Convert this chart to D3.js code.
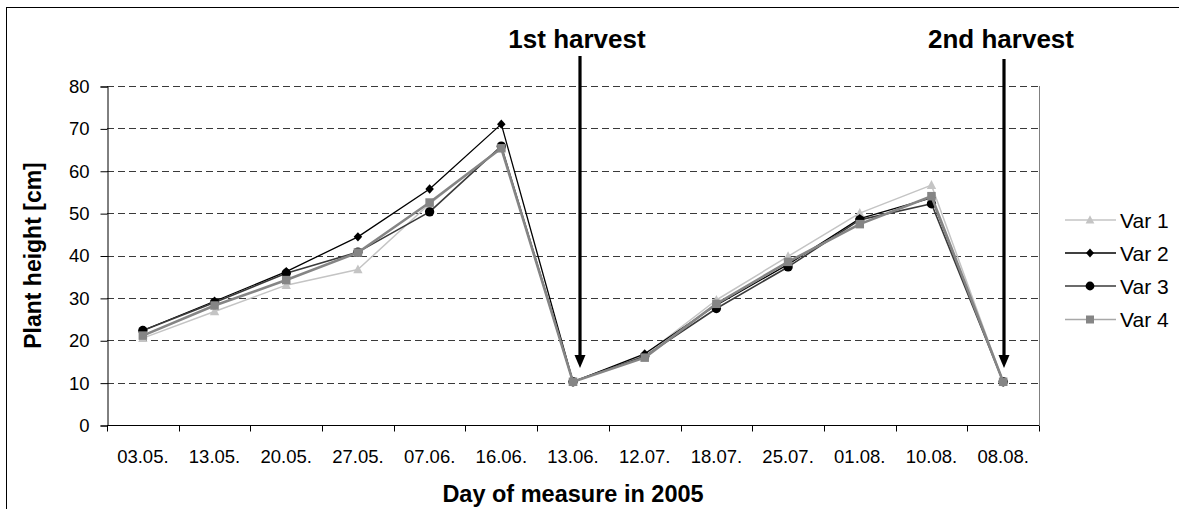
<!DOCTYPE html>
<html>
<head>
<meta charset="utf-8">
<script src="https://cdn.jsdelivr.net/npm/d3@7"></script>
<style>
  html, body { margin: 0; padding: 0; background: #fff; }
  svg { display: block; font-family: Arial, "Liberation Sans", sans-serif; }
</style>
</head>
<body>
<svg id="chart" width="1179" height="509"></svg>
<script>
const categories = ["03.05.", "13.05.", "20.05.", "27.05.", "07.06.", "16.06.", "13.06.", "12.07.", "18.07.", "25.07.", "01.08.", "10.08.", "08.08."];
const var1 = [20.5, 26.8, 33.0, 36.7, 52.2, 65.5, 10.2, 16.5, 29.5, 39.8, 50.0, 56.6, 10.2];
const var2 = [22.3, 29.2, 36.2, 44.4, 55.7, 71.0, 10.2, 16.8, 28.3, 37.9, 48.7, 53.6, 10.2];
const var3 = [22.3, 28.9, 35.8, 40.8, 50.3, 65.8, 10.2, 16.2, 27.5, 37.3, 48.4, 52.2, 10.2];
const var4 = [21.1, 28.2, 34.2, 40.7, 52.5, 65.3, 10.2, 15.9, 28.6, 38.5, 47.4, 54.0, 10.2];
const seriesNames = ["Var 1", "Var 2", "Var 3", "Var 4"];
const yTicks = [0, 10, 20, 30, 40, 50, 60, 70, 80];
const harvestLabels = ["1st harvest", "2nd harvest"];
const harvestCategories = ["13.06.", "08.08."];

const series = [
  { name: seriesNames[0], values: var1, color: "#c4c4c4", width: 1.5, marker: "triangle", mcolor: "#c4c4c4" },
  { name: seriesNames[1], values: var2, color: "#000000", width: 1.3, marker: "diamond", mcolor: "#000000" },
  { name: seriesNames[2], values: var3, color: "#3a3a3a", width: 1.6, marker: "circle", mcolor: "#000000" },
  { name: seriesNames[3], values: var4, color: "#858585", width: 2.6, marker: "square", mcolor: "#858585" }
];

const svg = d3.select("#chart");
const L = 107, R = 1039, T = 86, B = 425;

// outer chart border
svg.append("rect").attr("x", 6.5).attr("y", 7.5).attr("width", 1300).attr("height", 700)
  .attr("fill", "none").attr("stroke", "#000").attr("stroke-width", 1);

const x = d3.scaleBand().domain(categories).range([L, R]);
const y = d3.scaleLinear().domain([0, 80]).range([B, T]);

// gridlines
svg.append("g").selectAll("line").data(yTicks.filter(d => d > 0)).join("line")
  .attr("x1", L).attr("x2", R)
  .attr("y1", d => Math.round(y(d)) + 0.5).attr("y2", d => Math.round(y(d)) + 0.5)
  .attr("stroke", "#3a3a3a").attr("stroke-width", 1).attr("stroke-dasharray", "7,4");

// right border of plot area
svg.append("line").attr("x1", R + 0.5).attr("x2", R + 0.5).attr("y1", T).attr("y2", B)
  .attr("stroke", "#808080").attr("stroke-width", 1);

// y axis
const yAxis = d3.axisLeft(y).tickValues(yTicks).tickSize(7).tickPadding(11);
const gy = svg.append("g").attr("transform", `translate(${L + 0.5},0.5)`).call(yAxis);
gy.select(".domain").attr("stroke", "#000");
gy.selectAll(".tick line").attr("stroke", "#000");
gy.selectAll(".tick text").attr("font-size", 18.5).attr("fill", "#000")
  .attr("font-family", "Arial, 'Liberation Sans', sans-serif");

// x axis
const xAxis = d3.axisBottom(x).tickSize(0).tickPadding(24);
const gx = svg.append("g").attr("transform", `translate(0,${B + 0.5})`).call(xAxis);
gx.select(".domain").attr("stroke", "#000").attr("d", `M${L},0H${R}`);
gx.selectAll(".tick text").attr("font-size", 18.5).attr("fill", "#000")
  .attr("font-family", "Arial, 'Liberation Sans', sans-serif");
// boundary ticks
const bounds = categories.map(c => x(c)).concat([x(categories[categories.length - 1]) + x.bandwidth()]);
gx.append("g").selectAll("line").data(bounds).join("line")
  .attr("x1", d => Math.round(d) + 0.5).attr("x2", d => Math.round(d) + 0.5)
  .attr("y1", 0).attr("y2", 6).attr("stroke", "#000");

// axis titles
svg.append("text").attr("x", (L + R) / 2).attr("y", 502).attr("text-anchor", "middle")
  .attr("font-size", 23.5).attr("font-weight", "bold").text("Day of measure in 2005");
svg.append("text").attr("transform", `translate(41,${(T + B) / 2}) rotate(-90)`)
  .attr("text-anchor", "middle").attr("font-size", 23).attr("font-weight", "bold")
  .text("Plant height [cm]");

// series lines
const cx = c => x(c) + x.bandwidth() / 2;
const line = d3.line().x((d, i) => cx(categories[i])).y(d => y(d));

function marker(g, type, color, px, py, s) {
  if (type === "triangle") {
    g.append("path").attr("d", `M${px},${py - s * 0.6}L${px + s * 0.55},${py + s * 0.45}L${px - s * 0.55},${py + s * 0.45}Z`).attr("fill", color);
  } else if (type === "diamond") {
    g.append("path").attr("d", `M${px},${py - s * 0.55}L${px + s * 0.5},${py}L${px},${py + s * 0.55}L${px - s * 0.5},${py}Z`).attr("fill", color);
  } else if (type === "circle") {
    g.append("circle").attr("cx", px).attr("cy", py).attr("r", s * 0.55).attr("fill", color);
  } else {
    g.append("rect").attr("x", px - s / 2).attr("y", py - s / 2).attr("width", s).attr("height", s).attr("fill", color);
  }
}

series.forEach(s => {
  const g = svg.append("g");
  g.append("path").datum(s.values).attr("d", line).attr("fill", "none")
    .attr("stroke", s.color).attr("stroke-width", s.width).attr("stroke-linejoin", "round");
  s.values.forEach((v, i) => marker(g, s.marker, s.mcolor, cx(categories[i]), y(v), 8.5));
});

// harvest arrows
const arrowShift = [7, 1];
const arrowTop = [56, 59];
harvestCategories.forEach((c, i) => {
  const ax = Math.round(cx(c) + arrowShift[i]);
  const tip = 368;
  svg.append("line").attr("x1", ax).attr("x2", ax).attr("y1", arrowTop[i]).attr("y2", tip - 10)
    .attr("stroke", "#000").attr("stroke-width", 3.2);
  svg.append("path").attr("d", `M${ax - 5.5},${tip - 13}L${ax + 5.5},${tip - 13}L${ax},${tip}Z`).attr("fill", "#000");
  svg.append("text").attr("x", ax - 3).attr("y", 48).attr("text-anchor", "middle")
    .attr("font-size", 26).attr("font-weight", "bold").text(harvestLabels[i]);
});

// legend
const legY = [220, 253, 286, 319.5];
series.forEach((s, i) => {
  const g = svg.append("g");
  const ly = legY[i];
  g.append("line").attr("x1", 1065).attr("x2", 1116).attr("y1", ly).attr("y2", ly)
    .attr("stroke", i === 3 ? "#a8a8a8" : s.color).attr("stroke-width", i === 3 ? 1.6 : 1.3);
  marker(g, s.marker, s.mcolor, 1090, ly, 8);
  g.append("text").attr("x", 1120).attr("y", ly + 7.5).attr("font-size", 21).text(s.name);
});
</script>
</body>
</html>
